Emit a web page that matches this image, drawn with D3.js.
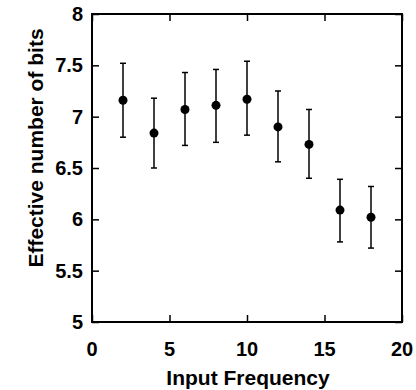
<!DOCTYPE html>
<html>
<head>
<meta charset="utf-8">
<script src="https://cdn.jsdelivr.net/npm/d3@7"></script>
<style>
  body { margin: 0; background: #fff; }
  text { font-family: "Liberation Sans", Arial, sans-serif; font-weight: bold; fill: #000; }
</style>
</head>
<body>
<div id="chart"></div>
<script>
const freqs = [2, 4, 6, 8, 10, 12, 14, 16, 18];
const enob = [7.16, 6.84, 7.07, 7.11, 7.17, 6.90, 6.73, 6.09, 6.02];
const errHigh = [7.52, 7.18, 7.43, 7.46, 7.54, 7.25, 7.07, 6.39, 6.32];
const errLow = [6.80, 6.50, 6.72, 6.75, 6.82, 6.56, 6.40, 5.78, 5.72];
const xTicks = [0, 5, 10, 15, 20];
const yTicks = [5, 5.5, 6, 6.5, 7, 7.5, 8];

const width = 416, height = 390;
const margin = { top: 14, right: 14, bottom: 68, left: 92 };

const svg = d3.select('#chart')
  .append('svg')
  .attr('width', width)
  .attr('height', height);

const x = d3.scaleLinear().domain([0, 20]).range([margin.left, width - margin.right]);
const y = d3.scaleLinear().domain([5, 8]).range([height - margin.bottom, margin.top]);

const tick = 7;

// Axes, ticks pointing inward on all four sides
svg.append('g')
  .attr('transform', `translate(0,${y(5)})`)
  .call(d3.axisTop(x).tickValues(xTicks).tickSize(tick).tickFormat(''))
  .call(g => g.select('.domain').remove());
svg.append('g')
  .attr('transform', `translate(0,${y(8)})`)
  .call(d3.axisBottom(x).tickValues(xTicks).tickSize(tick).tickFormat(''))
  .call(g => g.select('.domain').remove());
svg.append('g')
  .attr('transform', `translate(${x(0)},0)`)
  .call(d3.axisRight(y).tickValues(yTicks).tickSize(tick).tickFormat(''))
  .call(g => g.select('.domain').remove());
svg.append('g')
  .attr('transform', `translate(${x(20)},0)`)
  .call(d3.axisLeft(y).tickValues(yTicks).tickSize(tick).tickFormat(''))
  .call(g => g.select('.domain').remove());

svg.selectAll('.tick line').attr('stroke', '#000').attr('stroke-width', 1.5);

// Frame
svg.append('rect')
  .attr('x', x(0)).attr('y', y(8))
  .attr('width', x(20) - x(0)).attr('height', y(5) - y(8))
  .attr('fill', 'none').attr('stroke', '#000').attr('stroke-width', 2);

// Tick labels
svg.append('g').selectAll('text')
  .data(xTicks)
  .join('text')
  .attr('x', d => x(d))
  .attr('y', y(5) + 34)
  .attr('text-anchor', 'middle')
  .attr('font-size', 20)
  .text(d => d);

svg.append('g').selectAll('text')
  .data(yTicks)
  .join('text')
  .attr('x', x(0) - 9)
  .attr('y', d => y(d) + 7)
  .attr('text-anchor', 'end')
  .attr('font-size', 20)
  .text(d => d);

// Axis titles
svg.append('text')
  .attr('x', 248)
  .attr('y', 385)
  .attr('text-anchor', 'middle')
  .attr('font-size', 21)
  .text('Input Frequency');

svg.append('text')
  .attr('transform', 'translate(43,148) rotate(-90)')
  .attr('text-anchor', 'middle')
  .attr('font-size', 21)
  .text('Effective number of bits');

// Error bars
const cap = 3;
const bars = svg.append('g').attr('stroke', '#000').attr('stroke-width', 1.5);
freqs.forEach((f, i) => {
  bars.append('line')
    .attr('x1', x(f)).attr('x2', x(f))
    .attr('y1', y(errLow[i])).attr('y2', y(errHigh[i]));
  bars.append('line')
    .attr('x1', x(f) - cap).attr('x2', x(f) + cap)
    .attr('y1', y(errLow[i])).attr('y2', y(errLow[i]));
  bars.append('line')
    .attr('x1', x(f) - cap).attr('x2', x(f) + cap)
    .attr('y1', y(errHigh[i])).attr('y2', y(errHigh[i]));
});

// Points
svg.append('g').selectAll('circle')
  .data(freqs)
  .join('circle')
  .attr('cx', d => x(d))
  .attr('cy', (d, i) => y(enob[i]))
  .attr('r', 4.5)
  .attr('fill', '#000');
</script>
</body>
</html>
